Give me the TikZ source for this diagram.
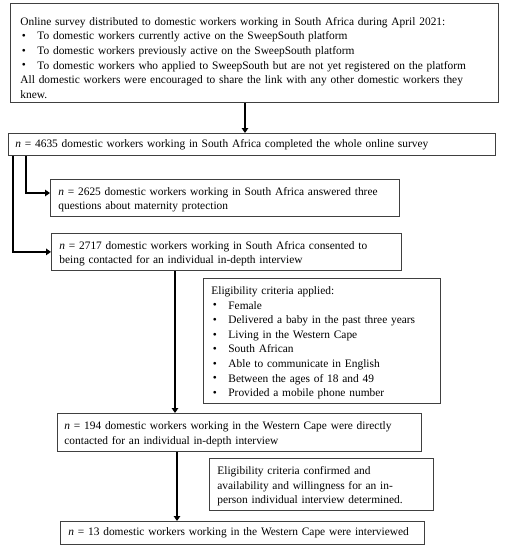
\documentclass[tikz,border=0pt]{standalone}
\usepackage{fontspec}
\usepackage{graphicx}
\setmainfont{Liberation Serif}
\usetikzlibrary{arrows.meta,calc}
\newcommand{\bitem}[1]{\makebox[17pt][l]{\hspace{1.5pt}\raisebox{0.05ex}{\scalebox{1.0}{\textbullet}}}#1}
\begin{document}
\begin{tikzpicture}[x=1pt,y=-1pt,
  box/.style={draw=black!75, line width=0.8pt, rectangle, anchor=north west,
    inner ysep=0pt, align=left, font=\fontsize{11.4}{14.6}\selectfont},
  tshift/.style={execute at begin node={\rule{0pt}{#1}}},
  arr/.style={line width=2.2pt, -{Triangle[length=5pt,width=6.5pt]}}]
\useasboundingbox (0,0) rectangle (505,550);
\node[box, tshift=18pt, inner xsep=10pt, text width=468pt, minimum height=99pt] (b1) at (10,3)
 {Online survey distributed to domestic workers working in South Africa during April 2021:\\
  \bitem{To domestic workers currently active on the SweepSouth platform}\\
  \bitem{To domestic workers previously active on the SweepSouth platform}\\
  \bitem{To domestic workers who applied to SweepSouth but are not yet registered on the platform}\\
  All domestic workers were encouraged to share the link with any other domestic workers they\\
  knew.};
\node[box, inner xsep=7pt, text width=473pt, minimum height=22pt] (b2) at (8,133)
 {\textit{n} = 4635 domestic workers working in South Africa completed the whole online survey};
\node[box, tshift=12pt, inner xsep=8pt, text width=333pt, minimum height=37pt] (b3) at (50,179)
 {\textit{n} = 2625 domestic workers working in South Africa answered three\\
  questions about maternity protection};
\node[box, tshift=12pt, inner xsep=8pt, text width=334pt, minimum height=37pt] (b4) at (51,233)
 {\textit{n} = 2717 domestic workers working in South Africa consented to\\
  being contacted for an individual in-depth interview};
\node[box, tshift=12pt, inner xsep=8pt, text width=221pt, minimum height=125pt] (c1) at (203,278)
 {Eligibility criteria applied:\\
  \bitem{Female}\\
  \bitem{Delivered a baby in the past three years}\\
  \bitem{Living in the Western Cape}\\
  \bitem{South African}\\
  \bitem{Able to communicate in English}\\
  \bitem{Between the ages of 18 and 49}\\
  \bitem{Provided a mobile phone number}};
\node[box, tshift=12pt, inner xsep=7pt, text width=350pt, minimum height=38pt] (b5) at (57,413)
 {\textit{n} = 194 domestic workers working in the Western Cape were directly\\
  contacted for an individual in-depth interview};
\node[box, tshift=12pt, inner xsep=8pt, text width=208pt, minimum height=52pt] (c2) at (209,458)
 {Eligibility criteria confirmed and\\
  availability and willingness for an in-\\
  person individual interview determined.};
\node[box, inner xsep=8pt, text width=348pt, minimum height=23pt] (b6) at (60,521)
 {\textit{n} = 13 domestic workers working in the Western Cape were interviewed};
\coordinate (x1) at (245,0);
\coordinate (x2) at (13,0);
\coordinate (x3) at (26,0);
\coordinate (y3) at (0,193);
\coordinate (x4) at (175,0);
\coordinate (x5) at (177,0);
\draw[arr] (b1.south -| x1) -- (b2.north -| x1);
\draw[arr, line width=2pt] (b2.south -| x2) |- (b4.west);
\draw[arr, line width=2pt] (b2.south -| x3) |- (b3.west |- y3);
\draw[arr] (b4.south -| x4) -- (b5.north -| x4);
\draw[arr] (b5.south -| x5) -- (b6.north -| x5);
\end{tikzpicture}
\end{document}
